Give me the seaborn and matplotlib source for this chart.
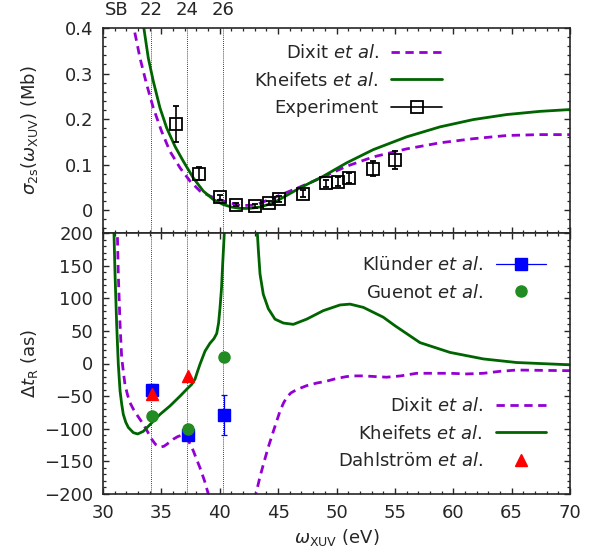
import numpy as np
import pandas as pd
import matplotlib
matplotlib.use("Agg")
import matplotlib.pyplot as plt
import matplotlib.transforms as mtrans
from matplotlib.lines import Line2D
from matplotlib.ticker import MultipleLocator
import seaborn as sns

# ---------------- data ----------------
# top panel: cross section (Mb)
dixit_sig_x = [32.3, 32.66, 33.17, 33.74, 34.31, 35.02, 35.74, 36.6, 37.45, 38.31, 39.17, 40.34,
               41.73, 43.0, 44.59, 46.87, 48.87, 50.87, 53.15, 56.0, 58.87, 61.72, 64.58, 67.43, 70.0]
dixit_sig_y = [0.45, 0.398, 0.334, 0.276, 0.2245, 0.173, 0.129, 0.093, 0.064, 0.042, 0.031, 0.020,
               0.0103, 0.011, 0.027, 0.051, 0.073, 0.0965, 0.117, 0.1346, 0.148, 0.157, 0.164, 0.166, 0.166]
kheif_sig_x = [33.2, 33.51, 33.88, 34.31, 34.88, 35.45, 36.17, 36.88, 37.73, 38.59, 39.45, 40.3,
               41.0, 41.73, 42.5, 43.45, 44.59, 46.87, 48.87, 50.87, 53.15, 56.0, 58.87, 61.72,
               64.58, 67.43, 70.0]
kheif_sig_y = [0.45, 0.398, 0.334, 0.283, 0.2245, 0.181, 0.140, 0.1075, 0.071, 0.042, 0.0235, 0.0125,
               0.007, 0.004, 0.004, 0.007, 0.016, 0.049, 0.0746, 0.104, 0.133, 0.161, 0.183, 0.199,
               0.210, 0.217, 0.221]
exp_x = [36.25, 38.22, 40.0, 41.4, 43.0, 44.2, 45.1, 47.1, 49.1, 50.1, 51.1, 53.1, 55.0]
exp_y = [0.189, 0.080, 0.028, 0.0125, 0.009, 0.016, 0.025, 0.036, 0.059, 0.063, 0.071, 0.091, 0.110]
exp_err = [0.040, 0.014, 0.006, 0.004, 0.004, 0.005, 0.006, 0.008, 0.008, 0.009, 0.011, 0.016, 0.020]

# bottom panel: time delay (as)
dixit_dt_x = [31.1, 31.23, 31.31, 31.46, 31.6, 31.74, 31.88, 32.1, 32.31, 32.6, 32.88, 33.45,
              33.8, 34.17, 34.5, 34.88, 35.2, 35.45, 36.02, 36.4, 36.74, 37.0, 37.17, 37.45,
              37.74, 38.0, 38.31, 38.7, 39.02, 39.4,
              42.8, 43.1, 43.4, 43.73, 44.16, 44.59, 45.16, 45.45, 45.73, 46.1, 46.59, 47.44,
              48.3, 49.16, 50.0, 50.87, 51.5, 52.3, 53.3, 54.3, 55.5, 56.87, 58.3, 59.72,
              61.15, 62.58, 64.0, 65.43, 67.5, 70.0]
dixit_dt_y = [300, 200, 137, 60, 9, -12, -32, -48, -60, -70, -78, -93,
              -104, -116, -124, -128, -127, -124, -116, -112, -110, -111, -114, -123,
              -134, -146, -160, -180, -200, -300,
              -300, -200, -177, -155, -128, -104, -73, -61, -52, -45, -40, -34,
              -30, -27, -23, -20, -19, -19, -20, -21, -19, -15, -15, -15,
              -16, -15, -12, -10, -10.5, -11]
kheif_dt_x = [30.85, 30.94, 31.03, 31.17, 31.31, 31.46, 31.6, 31.74, 31.95, 32.17, 32.6, 32.97,
              33.45, 34.17, 34.88, 35.74, 36.6, 37.25, 37.6, 37.88, 38.1, 38.31, 38.74, 39.16,
              39.5, 39.74, 39.9, 40.02, 40.15, 40.25, 40.39, 40.5,
              43.05, 43.22, 43.31, 43.45, 43.73, 44.16, 44.73, 45.45, 46.3, 47.45, 48.87, 50.3,
              51.16, 52.3, 54.0, 55.0, 57.15, 59.72, 62.58, 65.43, 70.0]
kheif_dt_y = [300, 200, 137, 60, -1, -42, -62, -78, -90, -98, -106, -108,
              -104, -91, -78, -65, -50, -38, -32, -24, -12, -1, 19, 31,
              38, 46, 62, 85, 115, 152, 200, 300,
              300, 200, 173, 137, 106, 84, 68, 62, 60, 68, 81, 89.7,
              91, 86, 71, 58, 32, 17, 7, 1.5, -2]
sb_orders = [22, 24, 26]
photon_ev = 1.55
klunder_x = [34.17, 37.25, 40.34]
klunder_y = [-40, -110, -79]
klunder_err = [9, 8, 30]
guenot_x = [34.17, 37.25, 40.34]
guenot_y = [-80, -100, 10]
dahl_x = [34.17, 37.25]
dahl_y = [-46, -19]

# ---------------- style ----------------
sns.set_style("ticks")
plt.rcParams["font.family"] = ["DejaVu Sans"]
plt.rcParams["mathtext.fontset"] = "dejavusans"
FS = 13
plt.rcParams.update({
    "font.size": FS,
    "axes.linewidth": 1.2,
    "xtick.direction": "in", "ytick.direction": "in",
    "xtick.top": True, "ytick.right": True,
    "xtick.major.size": 4, "ytick.major.size": 4,
    "xtick.minor.size": 2, "ytick.minor.size": 2,
    "xtick.major.width": 1.0, "ytick.major.width": 1.0,
    "xtick.minor.width": 0.9, "ytick.minor.width": 0.9,
    "xtick.minor.visible": True, "ytick.minor.visible": True,
    "xtick.major.pad": 7, "ytick.major.pad": 7,
    "xtick.labelsize": FS, "ytick.labelsize": FS,
})

PURPLE = "#9400D3"
DGREEN = "#006400"
FGREEN = "#228B22"
DASH = (0, (3, 2))

fig = plt.figure(figsize=(5.98, 5.55), dpi=100)
L, R = 103 / 598, 570 / 598
ax1 = fig.add_axes([L, 1 - 233 / 555, R - L, (233 - 28) / 555])
ax2 = fig.add_axes([L, 1 - 494 / 555, R - L, (494 - 233) / 555])

# ---------- top panel ----------
sns.lineplot(x=dixit_sig_x, y=dixit_sig_y, ax=ax1, sort=False, estimator=None,
             color=PURPLE, lw=2, linestyle=DASH)
sns.lineplot(x=kheif_sig_x, y=kheif_sig_y, ax=ax1, sort=False, estimator=None,
             color=DGREEN, lw=2)
ax1.errorbar(exp_x, exp_y, yerr=exp_err, fmt="s", mfc="none", mec="black", ms=8,
             mew=1.3, ecolor="black", elinewidth=1.2, capsize=2.5, capthick=1.2, zorder=5)
ax1.set_xlim(30, 70)
ax1.set_ylim(-0.05, 0.4)
ax1.xaxis.set_major_locator(MultipleLocator(5))
ax1.xaxis.set_minor_locator(MultipleLocator(1))
ax1.yaxis.set_minor_locator(MultipleLocator(0.02))
ax1.set_yticks([0, 0.1, 0.2, 0.3, 0.4])
ax1.set_yticklabels(["0", "0.1", "0.2", "0.3", "0.4"])
ax1.tick_params(axis="x", labelbottom=False, labeltop=False)
ax1.set_ylabel(r"$\sigma_{\rm 2s}(\omega_{\rm XUV})$ (Mb)")
ax1.yaxis.set_label_coords(-0.135, 0.5)

trans = mtrans.blended_transform_factory(ax1.transData, ax1.transAxes)
ax1.text(31.2, 1.088, "SB", transform=trans, ha="center", va="center", fontsize=FS)
for sb in sb_orders:
    ax1.text(sb * photon_ev, 1.088, str(sb), transform=trans, ha="center", va="center",
             fontsize=FS)

for ax in (ax1, ax2):
    for sb in sb_orders:
        ax.axvline(sb * photon_ev, color="black", ls=(0, (1, 1.5)), lw=0.6, zorder=0)

LEGKW = dict(loc="upper right", frameon=False, markerfirst=False, handlelength=2.8,
             handletextpad=0.7, labelspacing=0.52, borderpad=0, borderaxespad=0, fontsize=FS)

h1 = [Line2D([], [], color=PURPLE, lw=2, ls=DASH),
      Line2D([], [], color=DGREEN, lw=2),
      Line2D([], [], color="black", lw=1.2, marker="s", mfc="none", mec="black", ms=8, mew=1.3)]
lab1 = [r"Dixit $\mathit{et\ al.}$", r"Kheifets $\mathit{et\ al.}$", "Experiment"]
ax1.legend(h1, lab1, bbox_to_anchor=(0.726, 0.92), **LEGKW)

# ---------- bottom panel ----------
sns.lineplot(x=dixit_dt_x, y=dixit_dt_y, ax=ax2, sort=False, estimator=None,
             color=PURPLE, lw=2, linestyle=DASH)
sns.lineplot(x=kheif_dt_x, y=kheif_dt_y, ax=ax2, sort=False, estimator=None,
             color=DGREEN, lw=2)
ax2.errorbar(klunder_x, klunder_y, yerr=klunder_err, fmt="s", color="#0000FF", ms=8,
             elinewidth=0.9, capsize=2.5, capthick=0.9, zorder=5)
ax2.plot(guenot_x, guenot_y, "o", color=FGREEN, ms=8, zorder=6, ls="none")
ax2.plot(dahl_x, dahl_y, "^", color="#FF0000", ms=9, zorder=6, ls="none")
ax2.set_xlim(30, 70)
ax2.set_ylim(-200, 200)
ax2.xaxis.set_major_locator(MultipleLocator(5))
ax2.xaxis.set_minor_locator(MultipleLocator(1))
ax2.yaxis.set_major_locator(MultipleLocator(50))
ax2.yaxis.set_minor_locator(MultipleLocator(10))
ax2.set_xlabel(r"$\omega_{\rm XUV}$ (eV)", labelpad=4)
ax2.set_ylabel(r"$\Delta t_{\rm R}$ (as)")
ax2.yaxis.set_label_coords(-0.135, 0.5)

h2 = [Line2D([], [], color="#0000FF", lw=0.9, marker="s", ms=8),
      Line2D([], [], color=FGREEN, marker="o", ms=8, ls="none")]
lab2 = [r"Klünder $\mathit{et\ al.}$", r"Guenot $\mathit{et\ al.}$"]
leg2 = ax2.legend(h2, lab2, bbox_to_anchor=(0.949, 0.911), **LEGKW)
ax2.add_artist(leg2)
h3 = [Line2D([], [], color=PURPLE, lw=2, ls=DASH),
      Line2D([], [], color=DGREEN, lw=2),
      Line2D([], [], color="#FF0000", marker="^", ms=9, ls="none")]
lab3 = [r"Dixit $\mathit{et\ al.}$", r"Kheifets $\mathit{et\ al.}$", r"Dahlström $\mathit{et\ al.}$"]
ax2.legend(h3, lab3, bbox_to_anchor=(0.949, 0.371), **LEGKW)

fig.savefig("out.png", dpi=100)
